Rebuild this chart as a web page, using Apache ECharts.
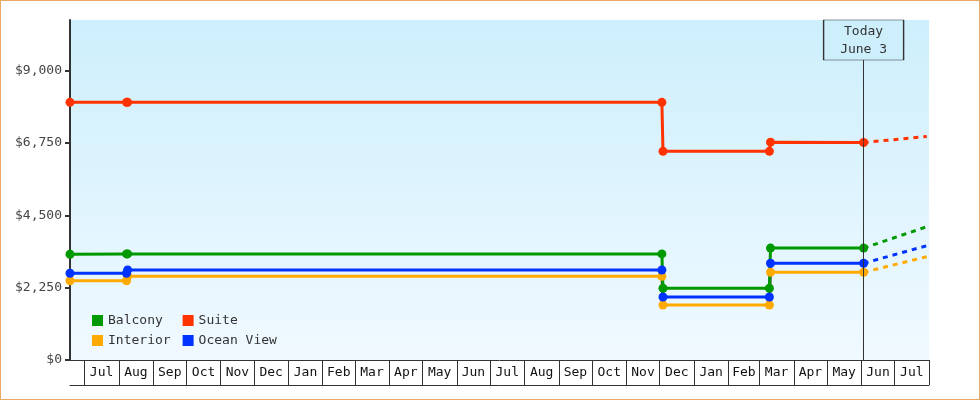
<!DOCTYPE html>
<html>
<head>
<meta charset="utf-8">
<script src="https://cdn.jsdelivr.net/npm/echarts@6/dist/echarts.min.js"></script>
<style>
  html, body { margin: 0; padding: 0; background: #fff; }
  #chart { width: 980px; height: 400px; box-sizing: border-box; border: 1px solid #e9a866; }
</style>
</head>
<body>
<div id="chart"></div>
<script>
// dates of the price points
var pointDates = ['2015-06-18', '2015-08-08', '2015-08-09', '2016-12-03', '2016-12-04', '2017-03-10', '2017-03-11', '2017-06-03'];
var balcony    = [3290, 3300, 3300, 3300, 2230, 2230, 3480, 3480];
var suite      = [8015, 8015, 8015, 8015, 6490, 6490, 6775, 6765];
var oceanView  = [2697, 2697, 2800, 2800, 1960, 1960, 3008, 3008];
var interior   = [2466, 2466, 2603, 2603, 1711, 1711, 2728, 2728];

// forecast (dashed) from today to end
var forecastDates = ['2017-06-03', '2017-07-30'];
var balconyForecast   = [3480, 4146];
var suiteForecast     = [6765, 6951];
var oceanViewForecast = [3008, 3555];
var interiorForecast  = [2728, 3213];

var today = '2017-06-03';
var todayLabel = 'Today\nJune 3';

var axisStart = '2015-06-18';
var axisEnd = '2017-08-01';
var monthStarts = ['2015-07-01', '2015-08-01', '2015-09-01', '2015-10-01', '2015-11-01', '2015-12-01',
  '2016-01-01', '2016-02-01', '2016-03-01', '2016-04-01', '2016-05-01', '2016-06-01',
  '2016-07-01', '2016-08-01', '2016-09-01', '2016-10-01', '2016-11-01', '2016-12-01',
  '2017-01-01', '2017-02-01', '2017-03-01', '2017-04-01', '2017-05-01', '2017-06-01',
  '2017-07-01', '2017-08-01'];
var monthLabels = ['Jul', 'Aug', 'Sep', 'Oct', 'Nov', 'Dec', 'Jan', 'Feb', 'Mar', 'Apr', 'May', 'Jun',
  'Jul', 'Aug', 'Sep', 'Oct', 'Nov', 'Dec', 'Jan', 'Feb', 'Mar', 'Apr', 'May', 'Jun', 'Jul'];

var yTicks = [0, 2250, 4500, 6750, 9000];
var yMax = 10575;

var colors = { Balcony: '#009900', Suite: '#ff3300', Interior: '#ffaa00', 'Ocean View': '#0033ff' };
var FONT = '"DejaVu Sans Mono", monospace';

// dates as day numbers (UTC) so the x axis can be a plain value axis
function day(s) {
  var p = s.split('-');
  return Date.UTC(+p[0], +p[1] - 1, +p[2]) / 86400000;
}
function pairs(dates, vals) {
  return dates.map(function (d, i) { return [day(d), vals[i]]; });
}

var tickValues = monthStarts.map(day);
var labelValues = [];
for (var i = 0; i < tickValues.length - 1; i++) {
  labelValues.push((tickValues[i] + tickValues[i + 1]) / 2);
}

function solid(name, vals) {
  return {
    name: name, type: 'line', data: pairs(pointDates, vals),
    symbol: 'circle', symbolSize: 9, showSymbol: true,
    color: colors[name],
    lineStyle: { width: 3, color: colors[name] },
    itemStyle: { color: colors[name] }
  };
}
function dashed(name, vals) {
  return {
    name: name, type: 'line', data: pairs(forecastDates, vals),
    showSymbol: false, color: colors[name],
    lineStyle: { width: 3, type: [5, 5], color: colors[name] }
  };
}

var chart = echarts.init(document.getElementById('chart'));

var series = [
  solid('Interior', interior),
  solid('Ocean View', oceanView),
  solid('Balcony', balcony),
  solid('Suite', suite),
  dashed('Interior', interiorForecast),
  dashed('Ocean View', oceanViewForecast),
  dashed('Balcony', balconyForecast),
  dashed('Suite', suiteForecast)
];

// today line
series[6].markLine = {
  silent: true, symbol: ['none', 'none'],
  label: { show: false },
  lineStyle: { color: '#333', width: 1, type: 'solid' },
  data: [{ xAxis: day(today) }]
};
series[7].z = 5;
series[7].markPoint = {
  silent: true,
  symbol: 'rect', symbolSize: [80, 40], symbolOffset: [0, 20],
  itemStyle: { color: '#cdeffc', borderColor: '#333', borderWidth: 1 },
  label: {
    show: true, position: 'inside', formatter: todayLabel, offset: [0, 1],
    color: '#333', fontFamily: FONT, fontSize: 13, lineHeight: 18
  },
  data: [{ coord: [day(today), yMax] }]
};

chart.setOption({
  animation: false,
  grid: {
    left: 69, top: 19, width: 859, height: 340,
    show: true, borderWidth: 0,
    backgroundColor: {
      type: 'linear', x: 0, y: 0, x2: 0, y2: 1,
      colorStops: [{ offset: 0, color: '#cdeffc' }, { offset: 1, color: '#f0f9ff' }]
    }
  },
  legend: {
    data: ['Balcony', 'Suite', 'Interior', 'Ocean View'],
    left: 91, top: 313, width: 200, padding: 0,
    icon: 'rect', itemWidth: 11, itemHeight: 11, itemGap: 7,
    formatter: function (name) {
      while (name.length < 8) name += ' ';
      return name;
    },
    textStyle: { color: '#333', fontFamily: FONT, fontSize: 13, lineHeight: 8, padding: [0, 5, 0, 0] }
  },
  xAxis: [{
    type: 'value',
    min: day(axisStart), max: day(axisEnd),
    axisLine: { show: true, lineStyle: { color: '#333', width: 1 } },
    axisTick: { show: true, customValues: tickValues, length: 25, lineStyle: { color: '#333', width: 1 } },
    axisLabel: {
      customValues: labelValues, margin: 6,
      color: '#111', fontFamily: FONT, fontSize: 13,
      formatter: function (v) {
        var idx = labelValues.indexOf(v);
        return idx >= 0 ? monthLabels[idx] : '';
      }
    },
    splitLine: { show: false }
  }, {
    type: 'value', position: 'bottom', offset: 25,
    min: day(axisStart), max: day(axisEnd),
    axisLine: { show: true, lineStyle: { color: '#333', width: 1 } },
    axisTick: { show: false }, axisLabel: { show: false }, splitLine: { show: false }
  }],
  yAxis: {
    type: 'value', min: 0, max: yMax,
    axisLine: { show: true, lineStyle: { color: '#333', width: 2 } },
    axisTick: { show: true, customValues: yTicks, length: 5, lineStyle: { color: '#333', width: 2 } },
    axisLabel: {
      customValues: yTicks, margin: 8,
      color: '#444', fontFamily: FONT, fontSize: 13,
      formatter: function (v) { return '$' + v.toLocaleString('en-US'); }
    },
    splitLine: { show: false }
  },
  series: series
});
</script>
</body>
</html>
